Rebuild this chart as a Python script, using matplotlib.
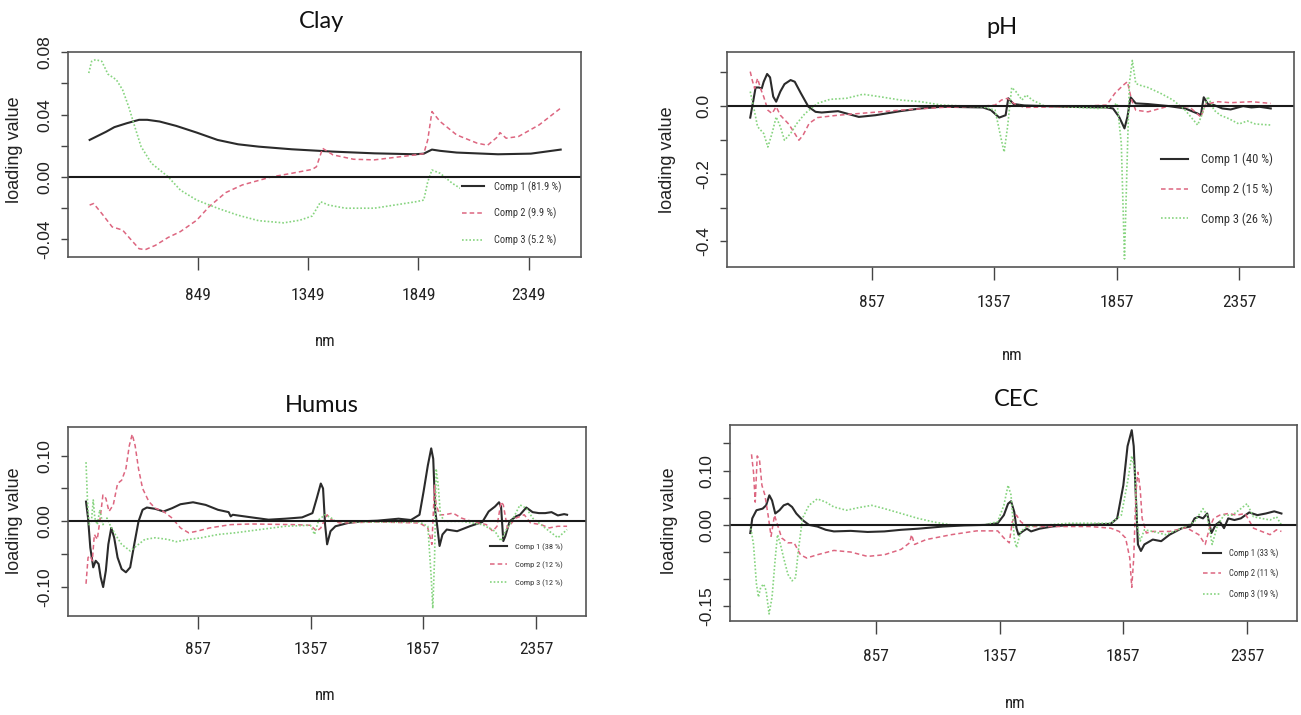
import matplotlib
matplotlib.use("Agg")
import matplotlib.pyplot as plt
from matplotlib import font_manager
from matplotlib.patches import Rectangle


def pick(fams):
    for f in fams:
        try:
            font_manager.findfont(font_manager.FontProperties(family=f), fallback_to_default=False)
            return f
        except Exception:
            pass
    return "DejaVu Sans"


NARROW = pick(["Liberation Sans Narrow", "Roboto Condensed", "DejaVu Sans Condensed", "Liberation Sans"])
ARIAL = pick(["Liberation Sans", "Arial", "DejaVu Sans"])
TITLEF = pick(["Lato", "Open Sans", "DejaVu Sans"])

# ---------------- DATA ----------------
titles = ["Clay", "pH", "Humus", "CEC"]

# Clay
clay_c1_nm = [360, 434, 472, 528, 584, 621, 677, 752, 845, 939, 1032, 1125, 1275, 1462, 1649, 1835, 1873, 1910, 1947, 2022, 2209, 2358, 2493]
clay_c1 = [0.0238, 0.029, 0.032, 0.0345, 0.0367, 0.0367, 0.0356, 0.0328, 0.0285, 0.0238, 0.021, 0.0195, 0.0178, 0.0163, 0.0152, 0.0146, 0.0150, 0.0176, 0.0168, 0.0157, 0.0146, 0.0150, 0.0176]
clay_c2_nm = [360, 378, 415, 462, 509, 546, 584, 612, 658, 715, 771, 845, 901, 976, 1051, 1181, 1275, 1368, 1387, 1415, 1462, 1555, 1649, 1835, 1873, 1891, 1910, 1947, 2022, 2115, 2162, 2209, 2218, 2246, 2302, 2396, 2493]
clay_c2 = [-0.018, -0.017, -0.0234, -0.032, -0.034, -0.040, -0.046, -0.0466, -0.0438, -0.0388, -0.035, -0.0277, -0.019, -0.010, -0.0051, 0.0, 0.0024, 0.0049, 0.0066, 0.0184, 0.0142, 0.0114, 0.011, 0.0142, 0.015, 0.0238, 0.042, 0.0356, 0.027, 0.0217, 0.0204, 0.026, 0.0285, 0.0249, 0.026, 0.0335, 0.0442]
clay_c3_nm = [356, 369, 387, 415, 443, 481, 509, 537, 565, 593, 640, 715, 771, 845, 939, 1032, 1125, 1238, 1312, 1368, 1406, 1443, 1518, 1649, 1835, 1873, 1891, 1910, 1947, 2003, 2046]
clay_c3 = [0.0667, 0.0742, 0.0753, 0.0742, 0.066, 0.0624, 0.056, 0.045, 0.032, 0.0195, 0.0088, 0.0002, -0.0084, -0.0148, -0.020, -0.0245, -0.028, -0.0294, -0.0277, -0.025, -0.0159, -0.018, -0.020, -0.020, -0.0159, -0.0148, -0.003, 0.0045, 0.0024, -0.0041, -0.0079]
clay_labels = ["Comp 1 (81.9 %)", "Comp 2 (9.9 %)", "Comp 3 (5.2 %)"]

# pH
ph_c1_nm = [359, 372, 381, 394, 406, 414, 428, 440, 453, 465, 482, 499, 524, 541, 566, 597, 626, 651, 718, 803, 871, 972, 1056, 1141, 1310, 1343, 1377, 1403, 1414, 1436, 1479, 1563, 1647, 1816, 1842, 1867, 1889, 1901, 1914, 1935, 1985, 2070, 2137, 2188, 2201, 2213, 2230, 2255, 2289, 2323, 2374, 2408, 2441, 2487]
ph_c1 = [-0.034, 0.018, 0.055, 0.055, 0.052, 0.072, 0.095, 0.085, 0.028, 0.013, 0.043, 0.065, 0.077, 0.072, 0.038, -0.002, -0.017, -0.019, -0.015, -0.032, -0.027, -0.015, -0.007, -0.002, -0.004, -0.012, -0.034, -0.027, 0.023, 0.006, 0.002, 0.0, -0.002, -0.004, -0.007, -0.032, -0.066, -0.032, 0.026, 0.008, 0.006, 0.0, -0.007, -0.022, -0.027, 0.026, 0.006, 0.003, -0.007, -0.010, 0.0, -0.004, -0.002, -0.007]
ph_c2_nm = [359, 367, 377, 389, 401, 414, 431, 448, 465, 482, 516, 541, 558, 575, 600, 634, 718, 803, 972, 1141, 1310, 1360, 1386, 1411, 1436, 1479, 1647, 1816, 1850, 1884, 1901, 1918, 1935, 1985, 2070, 2154, 2201, 2221, 2272, 2323, 2408, 2487]
ph_c2 = [0.102, 0.077, 0.052, 0.082, 0.052, 0.028, -0.012, -0.022, -0.002, -0.027, -0.053, -0.081, -0.101, -0.086, -0.051, -0.034, -0.027, -0.022, -0.012, -0.004, 0.0, 0.003, 0.018, 0.023, 0.008, -0.004, -0.002, 0.003, 0.038, 0.062, 0.072, 0.018, -0.012, -0.017, 0.0, -0.002, -0.032, 0.006, 0.013, 0.010, 0.013, 0.008]
ph_c3_nm = [359, 372, 389, 414, 431, 448, 465, 482, 499, 524, 550, 583, 634, 685, 752, 820, 887, 972, 1056, 1141, 1310, 1360, 1386, 1397, 1411, 1428, 1445, 1470, 1487, 1512, 1563, 1647, 1783, 1833, 1859, 1876, 1889, 1901, 1909, 1921, 1935, 1951, 1985, 2036, 2087, 2137, 2188, 2205, 2230, 2255, 2281, 2315, 2357, 2391, 2424, 2487]
ph_c3 = [0.043, 0.0, -0.061, -0.081, -0.121, -0.081, -0.032, -0.061, -0.101, -0.081, -0.051, -0.022, 0.008, 0.020, 0.023, 0.035, 0.028, 0.018, 0.013, 0.003, -0.002, -0.012, -0.101, -0.136, -0.061, 0.055, 0.043, 0.018, 0.033, 0.018, 0.0, -0.002, -0.007, -0.002, 0.008, -0.111, -0.452, -0.131, 0.067, 0.135, 0.067, 0.062, 0.055, 0.038, 0.018, -0.012, -0.056, -0.027, 0.028, -0.012, -0.027, -0.037, -0.053, -0.044, -0.053, -0.056]
ph_labels = ["Comp 1 (40 %)", "Comp 2 (15 %)", "Comp 3 (26 %)"]

# Humus
hu_c1_nm = [360, 369, 379, 392, 403, 416, 425, 436, 448, 459, 472, 485, 500, 518, 537, 556, 574, 593, 611, 630, 667, 704, 742, 779, 835, 891, 946, 993, 1002, 1011, 1095, 1170, 1244, 1319, 1365, 1384, 1402, 1412, 1421, 1430, 1445, 1467, 1523, 1579, 1653, 1747, 1802, 1840, 1858, 1877, 1892, 1901, 1910, 1918, 1929, 1942, 1961, 2007, 2063, 2119, 2147, 2175, 2193, 2202, 2212, 2221, 2240, 2268, 2286, 2314, 2342, 2370, 2398, 2426, 2454, 2482, 2495]
hu_c1 = [0.030, 0.005, -0.040, -0.070, -0.060, -0.065, -0.085, -0.100, -0.075, -0.035, -0.010, -0.025, -0.055, -0.0725, -0.0775, -0.070, -0.035, 0.0, 0.0175, 0.021, 0.019, 0.015, 0.020, 0.026, 0.029, 0.025, 0.0175, 0.014, 0.0075, 0.010, 0.006, 0.0025, 0.004, 0.006, 0.0125, 0.035, 0.0575, 0.050, -0.005, -0.035, -0.015, -0.0075, -0.0025, 0.0, 0.001, 0.004, 0.002, 0.010, 0.045, 0.085, 0.111, 0.095, 0.015, -0.005, -0.0375, -0.020, -0.0125, -0.015, -0.0075, -0.001, 0.015, 0.0225, 0.029, 0.0225, -0.030, -0.0225, 0.0, 0.0075, 0.010, 0.021, 0.014, 0.0125, 0.0125, 0.014, 0.009, 0.011, 0.010]
hu_c2_nm = [360, 369, 379, 388, 397, 410, 421, 435, 448, 462, 481, 500, 518, 537, 552, 565, 578, 593, 611, 639, 667, 704, 742, 779, 816, 853, 909, 1002, 1095, 1281, 1356, 1384, 1402, 1430, 1449, 1486, 1653, 1840, 1877, 1895, 1907, 1914, 1929, 1951, 1989, 2026, 2081, 2137, 2165, 2184, 2202, 2212, 2230, 2268, 2305, 2333, 2379, 2416, 2454, 2495]
hu_c2 = [-0.095, -0.055, -0.0525, -0.060, -0.020, -0.0275, 0.0, 0.040, 0.035, 0.015, 0.025, 0.0575, 0.0625, 0.080, 0.115, 0.1325, 0.115, 0.080, 0.050, 0.030, 0.020, 0.015, 0.005, -0.010, -0.0175, -0.015, -0.010, -0.005, -0.004, -0.005, -0.006, -0.015, -0.010, 0.010, 0.0025, -0.0025, -0.001, -0.0025, -0.010, -0.035, 0.055, 0.025, 0.010, 0.010, 0.0125, 0.005, -0.001, -0.005, -0.015, -0.0075, 0.030, 0.025, -0.010, 0.005, 0.010, -0.0025, -0.005, -0.010, -0.0075, -0.0075]
hu_c3_nm = [360, 366, 373, 384, 392, 399, 410, 421, 435, 453, 466, 490, 518, 556, 593, 621, 667, 723, 760, 816, 872, 946, 1021, 1132, 1244, 1356, 1374, 1393, 1421, 1449, 1467, 1560, 1840, 1877, 1892, 1899, 1907, 1914, 1923, 1933, 1951, 2026, 2119, 2175, 2202, 2221, 2249, 2286, 2314, 2342, 2379, 2416, 2454, 2495]
hu_c3 = [0.090, 0.035, -0.005, 0.0, 0.0325, 0.005, -0.005, 0.0175, -0.005, 0.005, -0.005, -0.020, -0.035, -0.045, -0.035, -0.0275, -0.025, -0.0275, -0.031, -0.0275, -0.025, -0.020, -0.0175, -0.0125, -0.0075, -0.006, -0.020, 0.0025, 0.010, 0.005, 0.0, -0.001, -0.001, -0.0075, -0.085, -0.1325, -0.055, 0.080, 0.055, 0.010, 0.0, 0.0, -0.005, -0.015, -0.030, -0.015, 0.0, 0.025, 0.020, 0.005, -0.005, -0.015, -0.025, -0.0125]
hu_labels = ["Comp 1 (38 %)", "Comp 2 (12 %)", "Comp 3 (12 %)"]

# CEC
cec_c1_nm = [349, 357, 374, 399, 413, 426, 437, 450, 467, 484, 501, 518, 535, 560, 586, 620, 654, 687, 755, 823, 891, 959, 1027, 1128, 1213, 1298, 1349, 1374, 1391, 1403, 1416, 1425, 1433, 1450, 1467, 1484, 1518, 1569, 1637, 1721, 1806, 1832, 1857, 1874, 1891, 1899, 1908, 1916, 1928, 1942, 1976, 2010, 2044, 2094, 2128, 2145, 2162, 2179, 2196, 2213, 2230, 2247, 2264, 2281, 2306, 2332, 2366, 2399, 2433, 2467, 2496]
cec_c1 = [-0.015, 0.012, 0.027, 0.030, 0.036, 0.0545, 0.045, 0.021, 0.027, 0.036, 0.039, 0.033, 0.021, 0.009, 0.0, -0.003, -0.009, -0.012, -0.011, -0.013, -0.012, -0.009, -0.007, -0.003, -0.001, 0.0, 0.003, 0.018, 0.039, 0.0436, 0.024, -0.006, -0.018, -0.012, -0.007, -0.012, -0.007, -0.003, 0.0, 0.0, 0.002, 0.012, 0.073, 0.145, 0.1745, 0.145, 0.048, -0.036, -0.048, -0.036, -0.027, -0.030, -0.018, -0.006, -0.003, 0.012, 0.015, 0.012, 0.021, -0.015, 0.0, 0.006, -0.006, 0.012, 0.009, 0.012, 0.023, 0.018, 0.021, 0.025, 0.021]
cec_c2_nm = [354, 362, 369, 377, 386, 396, 408, 421, 433, 447, 459, 476, 501, 526, 552, 577, 620, 687, 755, 823, 891, 959, 993, 1001, 1013, 1060, 1162, 1264, 1349, 1374, 1396, 1408, 1425, 1442, 1467, 1552, 1721, 1806, 1840, 1866, 1883, 1891, 1899, 1908, 1916, 1925, 1933, 1950, 1976, 2044, 2111, 2162, 2188, 2205, 2222, 2247, 2281, 2315, 2349, 2383, 2416, 2450, 2476, 2496]
cec_c2 = [0.130, 0.097, 0.042, 0.127, 0.121, 0.073, 0.055, 0.018, -0.021, 0.018, 0.0, -0.024, -0.033, -0.033, -0.055, -0.061, -0.055, -0.047, -0.050, -0.058, -0.055, -0.045, -0.033, -0.018, -0.036, -0.027, -0.018, -0.011, -0.011, -0.024, -0.033, 0.006, 0.018, 0.006, -0.003, -0.003, -0.003, -0.006, -0.012, -0.024, -0.061, -0.115, -0.061, 0.061, 0.097, 0.067, 0.012, -0.015, -0.012, -0.012, -0.005, -0.018, -0.036, -0.006, 0.012, 0.018, 0.021, 0.018, 0.021, -0.006, -0.012, -0.018, -0.009, -0.012]
cec_c3_nm = [349, 362, 374, 382, 391, 403, 413, 425, 437, 450, 459, 471, 484, 501, 518, 532, 543, 560, 586, 620, 654, 687, 738, 789, 840, 891, 959, 1027, 1094, 1162, 1298, 1349, 1374, 1391, 1403, 1416, 1425, 1442, 1467, 1637, 1806, 1849, 1874, 1891, 1903, 1913, 1925, 1942, 1976, 2027, 2094, 2145, 2179, 2196, 2216, 2238, 2264, 2298, 2332, 2357, 2383, 2416, 2450, 2476, 2496]
cec_c3 = [0.0, -0.036, -0.109, -0.133, -0.115, -0.109, -0.121, -0.164, -0.133, -0.061, -0.018, -0.036, -0.061, -0.091, -0.103, -0.097, -0.048, 0.012, 0.036, 0.048, 0.042, 0.033, 0.027, 0.032, 0.036, 0.030, 0.021, 0.012, 0.005, 0.0, 0.0, 0.006, 0.036, 0.073, 0.055, -0.024, -0.042, -0.012, -0.003, 0.003, 0.003, 0.018, 0.079, 0.127, 0.103, 0.0, -0.030, -0.009, -0.012, -0.018, -0.006, 0.006, 0.030, 0.018, -0.036, 0.0, 0.018, 0.018, 0.030, 0.039, 0.015, 0.012, 0.009, 0.015, 0.0]
cec_labels = ["Comp 1 (33 %)", "Comp 2 (11 %)", "Comp 3 (19 %)"]

clay_xticks = [849, 1349, 1849, 2349]
other_xticks = [857, 1357, 1857, 2357]

# ---------------- FIGURE ----------------
W, H = 1301, 715
fig = plt.figure(figsize=(W / 100, H / 100), dpi=100)
fig.patch.set_facecolor("white")


def box(l, r, t, b):
    return [l / W, 1 - b / H, (r - l) / W, (b - t) / H]


C1 = "#2b2b2b"
C2 = "#dd6680"
C3 = "#86d47f"

panels = [
    dict(name="Clay", rect=box(68, 581, 52, 257), xlim=(262, 2585), ylim=(-0.0513, 0.0802),
         xticks=clay_xticks,
         yticks=[-0.04, -0.02, 0, 0.02, 0.04, 0.06, 0.08], ylabels=["-0.04", "", "0.00", "", "0.04", "", "0.08"],
         data=[(clay_c1_nm, clay_c1), (clay_c2_nm, clay_c2), (clay_c3_nm, clay_c3)], labels=clay_labels,
         title=(322, 22), ylab=(15, 150), nm=(325, 342), xpad=13,
         leg=dict(anchor=(0.768, 0.37), fs=7.5, hl=2.1, sp=1.45), cover=True),
    dict(name="pH", rect=box(727, 1294, 52, 267), xlim=(264, 2582), ylim=(-0.476, 0.16),
         xticks=other_xticks,
         yticks=[-0.4, -0.3, -0.2, -0.1, 0.0, 0.1], ylabels=["-0.4", "", "-0.2", "", "0.0", ""],
         data=[(ph_c1_nm, ph_c1), (ph_c2_nm, ph_c2), (ph_c3_nm, ph_c3)], labels=ph_labels,
         title=(1002, 27), ylab=(668, 160), nm=(1012, 356), xpad=11,
         leg=dict(anchor=(0.765, 0.53), fs=9, hl=2.2, sp=1.3), cover=False),
    dict(name="Humus", rect=box(68, 586, 427, 616), xlim=(280, 2579), ylim=(-0.144, 0.1435),
         xticks=other_xticks,
         yticks=[-0.1, -0.05, 0, 0.05, 0.1], ylabels=["-0.10", "", "0.00", "", "0.10"],
         data=[(hu_c1_nm, hu_c1), (hu_c2_nm, hu_c2), (hu_c3_nm, hu_c3)], labels=hu_labels,
         title=(322, 406), ylab=(15, 521), nm=(325, 695), xpad=10,
         leg=dict(anchor=(0.815, 0.385), fs=6, hl=2.0, sp=1.25), cover=False),
    dict(name="CEC", rect=box(730, 1297, 425, 621), xlim=(267, 2559), ylim=(-0.177, 0.184),
         xticks=other_xticks,
         yticks=[-0.15, -0.10, -0.05, 0, 0.05, 0.10, 0.15], ylabels=["-0.15", "", "", "0.00", "", "0.10", ""],
         data=[(cec_c1_nm, cec_c1), (cec_c2_nm, cec_c2), (cec_c3_nm, cec_c3)], labels=cec_labels,
         title=(1017, 399), ylab=(670, 521), nm=(1015, 704), xpad=11.5,
         leg=dict(anchor=(0.835, 0.37), fs=6.2, hl=2.0, sp=1.25), cover=False),
]

styles = [dict(color=C1, lw=1.5, ls="-"),
          dict(color=C2, lw=1.1, ls=(0, (3, 2))),
          dict(color=C3, lw=1.2, ls=(0, (1, 1.2)))]

for p in panels:
    ax = fig.add_axes(p["rect"])
    handles = []
    for (xs, ys), st in zip(p["data"], styles):
        h, = ax.plot(xs, ys, color=st["color"], lw=st["lw"], ls=st["ls"], zorder=2)
        handles.append(h)
    ax.axhline(0, color="#1a1a1a", lw=1.5, zorder=2.1)
    ax.set_xlim(*p["xlim"])
    ax.set_ylim(*p["ylim"])
    ax.set_xticks(p["xticks"])
    ax.set_xticklabels([str(t) for t in p["xticks"]], fontfamily=NARROW, fontsize=12.5, color="#222222")
    ax.set_yticks(p["yticks"])
    ax.set_yticklabels(p["ylabels"], fontfamily=ARIAL, fontsize=12.5, rotation=90, va="center", color="#222222")
    ax.tick_params(axis="x", length=9, width=1.0, color="#444444", pad=p["xpad"])
    ax.tick_params(axis="y", length=5, width=1.0, color="#444444", pad=6)
    for s in ax.spines.values():
        s.set_color("#555555")
        s.set_linewidth(1.2)
    if p["cover"]:
        ax.add_patch(Rectangle((0.765, 0.0), 0.235, 0.386, transform=ax.transAxes,
                               facecolor="white", edgecolor="none", zorder=2.3))
    lg = p["leg"]
    leg = ax.legend(handles, p["labels"], loc="upper left", bbox_to_anchor=lg["anchor"],
                    frameon=False, prop=dict(family=NARROW, size=lg["fs"]),
                    handlelength=lg["hl"], handletextpad=1.0, labelspacing=lg["sp"],
                    borderaxespad=0, borderpad=0)
    for t in leg.get_texts():
        t.set_color("#333333")
    leg.set_zorder(5)

    fig.text(p["title"][0], H - p["title"][1], p["name"], transform=None,
             fontfamily=TITLEF, fontsize=17, ha="center", va="center", color="#111111")
    fig.text(p["ylab"][0], H - p["ylab"][1], "loading value", transform=None,
             fontfamily=ARIAL, fontsize=13, rotation=90, ha="center", va="center", color="#222222")
    fig.text(p["nm"][0], H - p["nm"][1], "nm", transform=None,
             fontfamily=NARROW, fontsize=12, ha="center", va="center", color="#222222")

fig.savefig("out.png", dpi=100, facecolor="white")
